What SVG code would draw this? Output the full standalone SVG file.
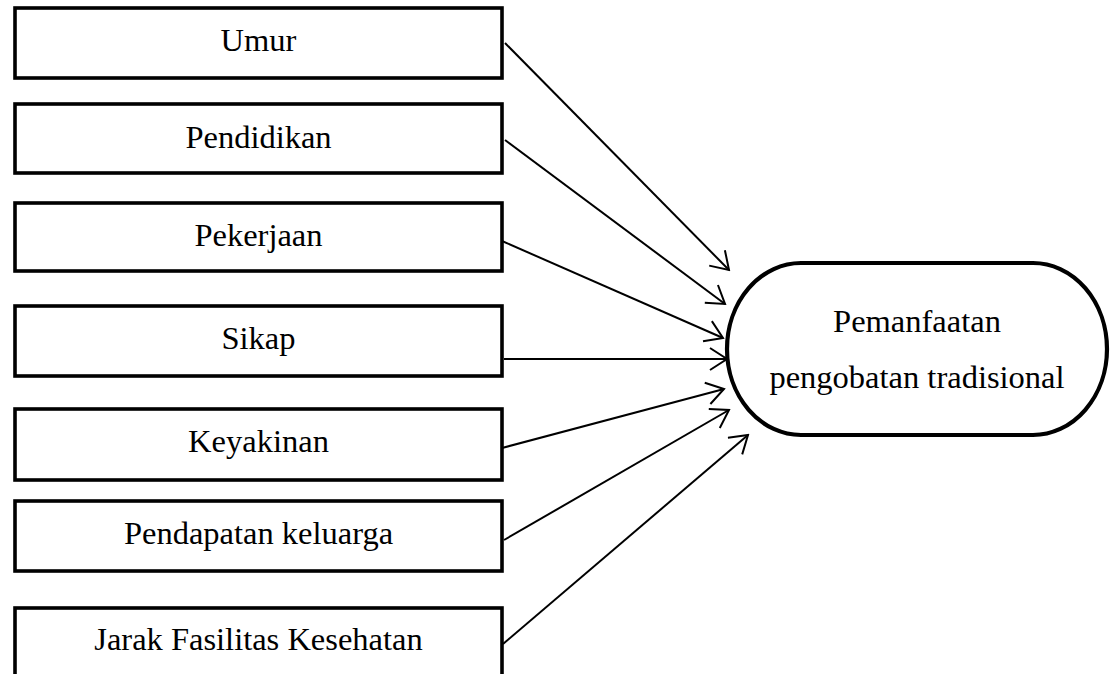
<svg xmlns="http://www.w3.org/2000/svg" width="1114" height="674" viewBox="0 0 1114 674">
<style>
.box{fill:#fff;stroke:#000;stroke-width:3.6}
.lbl{font-family:"Liberation Serif","Times New Roman",serif;font-size:32.5px;fill:#000;text-anchor:middle}
.conn{stroke:#000;stroke-width:2;fill:none;marker-end:url(#arr)}
</style>
<defs>
<marker id="arr" viewBox="0 0 20 24" refX="18" refY="12" markerWidth="20" markerHeight="24" markerUnits="userSpaceOnUse" orient="auto">
<path d="M1,1 L18,12 L1,23" fill="none" stroke="#000" stroke-width="2"/>
</marker>
</defs>
<rect width="1114" height="674" fill="#fff"/>
<g id="umur"><rect class="box" x="15" y="8" width="487" height="70"/><text class="lbl" x="258.5" y="51">Umur</text></g>
<g id="pendidikan"><rect class="box" x="15" y="104" width="487" height="69"/><text class="lbl" x="258.5" y="148">Pendidikan</text></g>
<g id="pekerjaan"><rect class="box" x="15" y="203" width="487" height="68"/><text class="lbl" x="258.5" y="246">Pekerjaan</text></g>
<g id="sikap"><rect class="box" x="15" y="306" width="487" height="70"/><text class="lbl" x="258.5" y="349">Sikap</text></g>
<g id="keyakinan"><rect class="box" x="15" y="409" width="487" height="71"/><text class="lbl" x="258.5" y="452">Keyakinan</text></g>
<g id="pendapatan"><rect class="box" x="15" y="501" width="487" height="70"/><text class="lbl" x="258.5" y="544">Pendapatan keluarga</text></g>
<g id="jarak"><rect class="box" x="15" y="608" width="487" height="100"/><text class="lbl" x="258.5" y="650">Jarak Fasilitas Kesehatan</text></g>
<g id="pemanfaatan"><rect x="727" y="263" width="380" height="172" rx="74" ry="86" fill="#fff" stroke="#000" stroke-width="4.2"/><text class="lbl" x="917" y="332">Pemanfaatan</text><text class="lbl" x="917" y="388">pengobatan tradisional</text></g>
<g id="connectors">
<line class="conn" x1="505" y1="43" x2="729" y2="270"/>
<line class="conn" x1="505" y1="140" x2="725" y2="304"/>
<line class="conn" x1="502" y1="241" x2="723" y2="338"/>
<line class="conn" x1="504" y1="359" x2="727" y2="359"/>
<line class="conn" x1="502" y1="448" x2="724" y2="389"/>
<line class="conn" x1="504" y1="540" x2="729" y2="410"/>
<line class="conn" x1="503" y1="644" x2="748" y2="435"/>
</g>
</svg>
